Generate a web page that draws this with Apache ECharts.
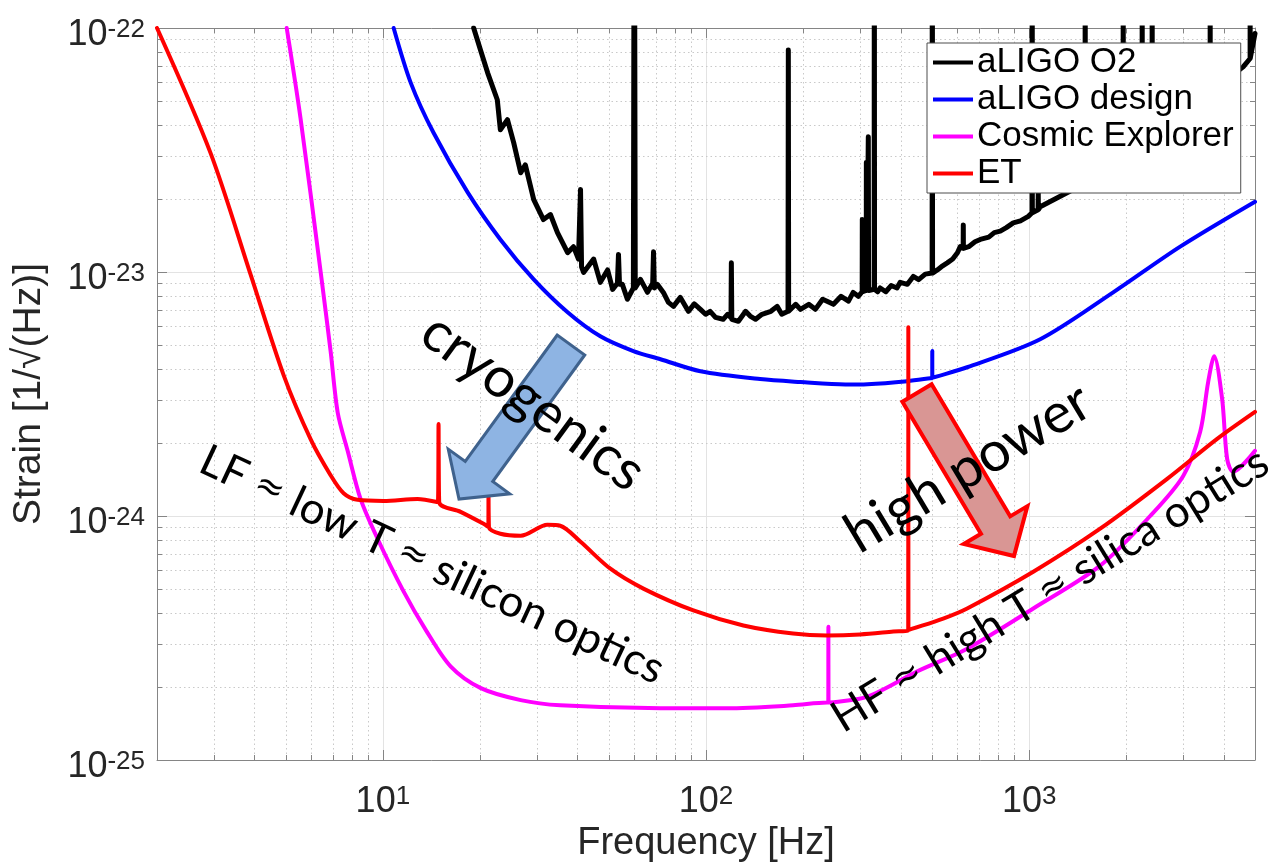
<!DOCTYPE html>
<html>
<head>
<meta charset="utf-8">
<title>Detector sensitivity curves</title>
<script src="https://cdn.jsdelivr.net/npm/echarts@6/dist/echarts.min.js"></script>
<style>
  html, body { margin: 0; padding: 0; background: #ffffff; }
  #chart { width: 1272px; height: 868px; }
</style>
</head>
<body>
<div id="chart"></div>
<script>
// Axis ranges
const freqRange = [2, 5000];          // Hz
const strainRange = [1e-25, 1e-22];   // 1/sqrt(Hz)
// Strain values are handed to the log axis in units of 1e-24 (keeps the scale well inside float precision)
const STRAIN_UNIT = 1e-24;

const seriesNames = ['aLIGO O2', 'aLIGO design', 'Cosmic Explorer', 'ET'];
const seriesColors = ['#000000', '#0000ff', '#ff00ff', '#ff0000'];

// [frequency (Hz), strain (1/sqrt(Hz))]
const aligoO2 = [
  [19.1, 1.0e-22], [20.05, 8.13e-23], [21.1, 6.55e-23], [22.6, 5.08e-23], [23.1, 3.83e-23],
  [24.3, 4.21e-23], [25.4, 3.39e-23], [26.7, 2.55e-23], [27.6, 2.75e-23], [29.3, 1.98e-23],
  [31.4, 1.64e-23], [33.0, 1.72e-23], [34.7, 1.45e-23], [37.3, 1.20e-23], [38.9, 1.27e-23],
  [40.3, 1.13e-23], [40.9, 2.18e-23], [41.2, 1.05e-23],
  [41.8, 9.96e-24], [44.9, 1.13e-23], [47.1, 9.07e-24], [49.6, 1.02e-23], [51.4, 8.49e-24],
  [53.2, 9.0e-24], [53.6, 1.18e-23], [54.0, 8.9e-24],
  [55.1, 8.9e-24], [57.1, 7.73e-24],
  [59.6, 8.6e-24], [60.0, 1e-21], [60.4, 8.6e-24],
  [62.7, 9.33e-24], [65.9, 8.25e-24],
  [68.4, 9.0e-24], [68.8, 1.21e-23], [69.2, 8.6e-24],
  [70.7, 8.9e-24], [73.8, 8.25e-24], [76.5, 7.51e-24], [79.3, 7.23e-24], [83.3, 7.87e-24],
  [88.2, 6.90e-24], [92.0, 7.4e-24], [96.1, 7.03e-24], [99.7, 6.71e-24], [103, 6.9e-24],
  [107, 6.52e-24], [113, 6.40e-24], [116.6, 6.71e-24],
  [119.5, 6.5e-24], [119.8, 1.09e-23], [120.2, 6.4e-24],
  [126, 6.28e-24], [132.6, 6.9e-24], [137, 6.6e-24], [142.4, 6.40e-24], [149, 6.71e-24],
  [158.8, 6.9e-24], [166, 7.23e-24], [171.6, 6.71e-24],
  [179.4, 6.9e-24], [179.8, 8.13e-23], [180.2, 6.9e-24],
  [189.5, 7.37e-24], [196, 7.03e-24], [208, 7.37e-24], [218, 7.03e-24], [229.6, 7.73e-24],
  [248, 7.37e-24], [261.8, 7.95e-24], [276, 7.6e-24], [285.4, 8.25e-24], [296, 7.95e-24],
  [304.3, 8.3e-24], [304.6, 1.64e-23], [305.5, 8.3e-24],
  [313.3, 8.4e-24], [313.5, 2.81e-23], [314.5, 8.4e-24],
  [317.6, 8.4e-24], [317.9, 3.58e-23], [318.5, 8.4e-24],
  [331.5, 8.5e-24], [331.8, 1e-21], [332.3, 8.5e-24],
  [340, 8.3e-24], [346, 8.6e-24], [360, 8.3e-24], [374, 8.8e-24], [390, 8.6e-24],
  [399, 9.07e-24], [420, 8.9e-24], [438, 9.59e-24], [455, 9.3e-24], [477, 9.8e-24],
  [501, 9.9e-24], [501.5, 1e-21], [502.5, 9.9e-24],
  [520, 1.02e-23], [540, 1.06e-23], [558, 1.09e-23], [580, 1.13e-23], [600, 1.2e-23], [612, 1.27e-23],
  [625, 1.25e-23], [625.5, 1.56e-23], [626, 1.25e-23],
  [650, 1.27e-23], [680, 1.33e-23], [706, 1.36e-23], [750, 1.39e-23], [780, 1.45e-23],
  [814, 1.47e-23], [850, 1.52e-23], [893, 1.59e-23], [940, 1.62e-23], [994, 1.69e-23],
  [1021, 1.75e-23], [1022, 1e-21], [1023, 1.75e-23],
  [1066, 1.8e-23], [1067, 2.12e-23], [1068, 1.8e-23],
  [1082, 1.85e-23], [1369, 2.18e-23],
  [1490, 2.37e-23], [1491, 1e-21], [1492, 2.37e-23],
  [1954, 3.08e-23], [1955, 1e-21], [1956, 3.08e-23],
  [2237, 3.48e-23], [2238, 1e-21], [2239, 3.48e-23],
  [2402, 3.72e-23], [2403, 1e-21], [2404, 3.72e-23],
  [3632, 5.42e-23], [3633, 1e-21], [3634, 5.42e-23],
  [4595, 6.93e-23],
  [4829, 7.5e-23], [4830, 1e-21], [4831, 7.5e-23],
  [5000, 9.5e-23]
];

const aligoDesign = [
  [10.8, 1.0e-22], [12.2, 5.96e-23], [14.35, 3.72e-23], [18.3, 2.12e-23], [23.1, 1.36e-23],
  [29.3, 9.33e-24], [37.3, 6.84e-24], [47.1, 5.45e-24], [59.6, 4.74e-24], [72.3, 4.39e-24],
  [96.1, 3.92e-24], [147, 3.64e-24], [196, 3.54e-24], [270, 3.46e-24], [316, 3.47e-24],
  [420, 3.57e-24], [495, 3.67e-24],
  [501.3, 3.68e-24], [501.5, 4.74e-24], [501.7, 3.69e-24],
  [643, 4.07e-24], [1082, 5.30e-24], [1820, 8.25e-24], [2934, 1.27e-23], [5000, 1.94e-23]
];

const cosmicExplorer = [
  [5.04, 1.0e-22], [5.56, 4.28e-23], [6.42, 1.0e-23], [6.89, 4.74e-24], [7.25, 2.65e-24],
  [7.78, 1.85e-24], [8.53, 1.175e-24], [9.63, 8.07e-25], [11.6, 4.90e-25], [13.6, 3.40e-25],
  [16.2, 2.42e-25], [20.1, 1.97e-25], [26.7, 1.76e-25], [35.4, 1.675e-25], [72.3, 1.63e-25],
  [116, 1.63e-25], [186, 1.675e-25], [237, 1.72e-25],
  [239.0, 1.72e-25], [239.2, 3.52e-25], [239.4, 1.72e-25],
  [316, 1.82e-25], [451, 2.31e-25], [643, 2.86e-25], [1030, 4.18e-25], [1659, 6.26e-25],
  [2369, 1.00e-24], [2998, 1.46e-24], [3382, 2.21e-24], [3581, 3.54e-24], [3738, 4.52e-24],
  [3957, 3.01e-24], [4101, 1.71e-24], [4279, 1.52e-24], [5000, 1.85e-24]
];

const einsteinTelescope = [
  [2.0, 1.0e-22], [2.93, 3.07e-23], [3.90, 9.73e-24], [4.93, 3.78e-24], [5.98, 2.06e-24],
  [6.89, 1.47e-24], [7.56, 1.24e-24], [8.35, 1.165e-24], [10.05, 1.153e-24], [12.8, 1.175e-24],
  [14.8, 1.14e-24], [14.87, 2.38e-24], [14.94, 1.14e-24],
  [17.4, 1.04e-24], [20.5, 9.29e-25],
  [21.2, 9.03e-25], [21.23, 1.29e-24], [21.3, 9.0e-25],
  [23.1, 8.46e-25], [26.7, 8.30e-25], [32.3, 9.20e-25], [35.4, 9.12e-25], [40.9, 7.84e-25],
  [50.6, 6.08e-25], [64.0, 5.04e-25], [91.4, 4.10e-25], [130.5, 3.56e-25], [186, 3.30e-25],
  [237, 3.24e-25], [300, 3.27e-25], [380, 3.36e-25],
  [422.5, 3.40e-25], [422.8, 5.93e-24], [423.1, 3.41e-25],
  [542, 3.80e-25], [643, 4.18e-25], [1030, 5.91e-25], [1659, 8.87e-25], [2674, 1.42e-24],
  [3818, 2.07e-24], [5000, 2.67e-24]
];

// Log-axis minor divisions (2..9 inside each decade)
const minorMultipliers = [2, 3, 4, 5, 6, 7, 8, 9];
function minorTicks(range) {
  const out = [];
  const lo = Math.floor(Math.log10(range[0]) + 1e-9);
  const hi = Math.ceil(Math.log10(range[1]) - 1e-9);
  for (let e = lo; e < hi; e++) {
    minorMultipliers.forEach(m => {
      const v = m * Math.pow(10, e);
      if (v > range[0] * 1.0001 && v < range[1] * 0.9999) out.push(v);
    });
  }
  return out;
}

// Annotation texts
const noteCryo = 'cryogenics';
const notePower = 'high power';
const noteLF = 'LF \u2248 low T \u2248 silicon optics';
const noteHF = 'HF \u2248 high T \u2248 silica optics';

const FONT = "'Liberation Sans', Arial, Helvetica, sans-serif";
const NOTE_FONT = "Lato, 'Open Sans', sans-serif";
const SYMBOL_FONT = "'DejaVu Sans', sans-serif";
const AXIS_COLOR = '#858585';
const TEXT_COLOR = '#262626';
const MAJOR_GRID = '#e3e3e3';
const MINOR_GRID = '#c9c9c9';

// Convert to axis units
const toAxis = pts => pts.map(p => [p[0], p[1] / STRAIN_UNIT]);
const yRange = [strainRange[0] / STRAIN_UNIT, strainRange[1] / STRAIN_UNIT];
const unitExp = Math.round(Math.log10(STRAIN_UNIT));
const freqMinorTicks = minorTicks(freqRange);
const strainMinorTicks = minorTicks(yRange);

const chart = echarts.init(document.getElementById('chart'), null, { renderer: 'canvas' });

const richPower = {
  b: { fontSize: 36, fontFamily: FONT, color: TEXT_COLOR, lineHeight: 36, padding: [11, 0, 0, 0], verticalAlign: 'bottom' },
  s: { fontSize: 26, fontFamily: FONT, color: TEXT_COLOR, lineHeight: 26, verticalAlign: 'top' }
};

function logAxisBase(range) {
  return {
    type: 'log', logBase: 10, min: range[0], max: range[1],
    axisLine: { show: true, lineStyle: { color: AXIS_COLOR, width: 1 } },
    axisTick: { show: true, inside: true, length: 10, lineStyle: { color: AXIS_COLOR, width: 1 } },
    minorTick: { show: false },
    minorSplitLine: { show: false }
  };
}

function lineSeries(i, data, smooth) {
  return {
    name: seriesNames[i], type: 'line', data: toAxis(data),
    xAxisIndex: 0, yAxisIndex: 0,
    showSymbol: false, symbol: 'none', clip: true, silent: true,
    smooth: smooth,
    lineStyle: { color: seriesColors[i], width: i === 0 ? 5 : 4, join: 'round', cap: 'round' },
    itemStyle: { color: seriesColors[i] },
    emphasis: { disabled: true },
    z: 3 + i
  };
}

// Dotted minor grid plus short inward ticks on both opposite edges
const minorGridX = {
  type: 'custom', silent: true, z: 1, animation: false,
  xAxisIndex: 0, yAxisIndex: 0,
  data: freqMinorTicks.map(v => [v, yRange[0]]),
  encode: { x: 0, y: 1 },
  renderItem: (params, api) => {
    const v = api.value(0);
    const b = api.coord([v, yRange[0]]);
    const t = api.coord([v, yRange[1]]);
    const x = Math.round(b[0]) + 0.5;
    return {
      type: 'group', children: [
        { type: 'line', shape: { x1: x, y1: t[1], x2: x, y2: b[1] }, style: { stroke: MINOR_GRID, lineWidth: 1, lineDash: [1.5, 3] } },
        { type: 'line', shape: { x1: x, y1: b[1], x2: x, y2: b[1] - 5 }, style: { stroke: AXIS_COLOR, lineWidth: 1 } },
        { type: 'line', shape: { x1: x, y1: t[1], x2: x, y2: t[1] + 5 }, style: { stroke: AXIS_COLOR, lineWidth: 1 } }
      ]
    };
  }
};
const minorGridY = {
  type: 'custom', silent: true, z: 1, animation: false,
  xAxisIndex: 0, yAxisIndex: 0,
  data: strainMinorTicks.map(v => [freqRange[0], v]),
  encode: { x: 0, y: 1 },
  renderItem: (params, api) => {
    const v = api.value(1);
    const l = api.coord([freqRange[0], v]);
    const r = api.coord([freqRange[1], v]);
    const y = Math.round(l[1]) + 0.5;
    return {
      type: 'group', children: [
        { type: 'line', shape: { x1: l[0], y1: y, x2: r[0], y2: y }, style: { stroke: MINOR_GRID, lineWidth: 1, lineDash: [1.5, 3] } },
        { type: 'line', shape: { x1: l[0], y1: y, x2: l[0] + 5, y2: y }, style: { stroke: AXIS_COLOR, lineWidth: 1 } },
        { type: 'line', shape: { x1: r[0], y1: y, x2: r[0] - 5, y2: y }, style: { stroke: AXIS_COLOR, lineWidth: 1 } }
      ]
    };
  }
};

// Block arrow outline from tail centre to tip
function blockArrow(tail, tip, shaftW, headW, headL) {
  const dx = tip[0] - tail[0], dy = tip[1] - tail[1];
  const len = Math.hypot(dx, dy);
  const ux = dx / len, uy = dy / len, nx = -uy, ny = ux;
  const bx = tip[0] - ux * headL, by = tip[1] - uy * headL;
  const s = shaftW / 2, h = headW / 2;
  return [
    [tail[0] + nx * s, tail[1] + ny * s],
    [bx + nx * s, by + ny * s],
    [bx + nx * h, by + ny * h],
    [tip[0], tip[1]],
    [bx - nx * h, by - ny * h],
    [bx - nx * s, by - ny * s],
    [tail[0] - nx * s, tail[1] - ny * s]
  ];
}

// Rotated annotation; deg > 0 turns the text clockwise (reading downhill).
// The "approximately equal" sign is set in a font with a fuller glyph.
function note(text, x, y, deg, size) {
  const parts = text.split('\u2248');
  const richText = parts.map(p => '{t|' + p + '}').join('{a|\u2248}');
  return {
    type: 'text', x: x, y: y, rotation: -deg * Math.PI / 180, z: 110, silent: true,
    style: {
      text: richText, align: 'center', verticalAlign: 'middle',
      rich: {
        t: { fontSize: size, fontFamily: NOTE_FONT, fill: '#000000' },
        a: { fontSize: Math.round(size * 0.8), fontFamily: SYMBOL_FONT, fill: '#000000' }
      }
    }
  };
}

const option = {
  animation: false,
  backgroundColor: '#ffffff',
  grid: { left: 157, top: 28, width: 1098, height: 734, containLabel: false },
  legend: {
    data: seriesNames,
    orient: 'vertical', left: 927, top: 43,
    icon: 'rect', itemWidth: 40, itemHeight: 4, itemGap: 0,
    padding: [1, 7, 1, 6],
    backgroundColor: '#ffffff', borderColor: '#4d4d4d', borderWidth: 1,
    textStyle: { fontSize: 35, fontFamily: FONT, color: '#000000', lineHeight: 37, padding: [0, 0, 0, -1] },
    selectedMode: false, z: 50
  },
  xAxis: [
    Object.assign(logAxisBase(freqRange), {
      position: 'bottom',
      name: 'Frequency [Hz]', nameLocation: 'middle', nameGap: 65,
      nameTextStyle: { fontSize: 38, fontFamily: FONT, color: TEXT_COLOR },
      axisLabel: {
        show: true, margin: 24, showMinLabel: false, showMaxLabel: false,
        formatter: v => '{b|10}{s|' + Math.round(Math.log10(v)) + '}', rich: richPower
      },
      splitLine: { show: true, lineStyle: { color: MAJOR_GRID, width: 1 } }
    }),
    Object.assign(logAxisBase(freqRange), {
      position: 'top', axisLabel: { show: false }, splitLine: { show: false }
    })
  ],
  yAxis: [
    Object.assign(logAxisBase(yRange), {
      position: 'left',
      name: 'Strain [1/\u221A(Hz)]', nameLocation: 'middle', nameGap: 108,
      nameTextStyle: { fontSize: 39, fontFamily: FONT, color: TEXT_COLOR },
      axisLabel: {
        show: true, margin: 12, padding: [14, 0, 0, 0],
        formatter: v => '{b|10}{s|' + (Math.round(Math.log10(v)) + unitExp) + '}', rich: richPower
      },
      splitLine: { show: true, lineStyle: { color: MAJOR_GRID, width: 1 } }
    }),
    Object.assign(logAxisBase(yRange), {
      position: 'right', axisLabel: { show: false }, splitLine: { show: false }
    })
  ],
  series: [
    minorGridX,
    minorGridY,
    lineSeries(0, aligoO2, false),
    lineSeries(1, aligoDesign, 0.3),
    lineSeries(2, cosmicExplorer, 0.3),
    lineSeries(3, einsteinTelescope, 0.3)
  ],
  graphic: [
    {
      type: 'polygon', z: 100, silent: true,
      shape: { points: blockArrow([571, 345], [459, 499], 34, 76, 34) },
      style: { fill: '#8eb4e3', stroke: '#3f628d', lineWidth: 3, lineJoin: 'miter' }
    },
    {
      type: 'polygon', z: 100, silent: true,
      shape: { points: blockArrow([917, 393], [1014, 556], 34, 74, 36) },
      style: { fill: '#d99694', stroke: '#ff0000', lineWidth: 4, lineJoin: 'miter' }
    },
    note(noteCryo, 533, 402, 36, 56),
    note(notePower, 968, 468, -31, 56),
    note(noteLF, 432, 565, 25, 44),
    note(noteHF, 1050, 590, -31.5, 44)
  ]
};

chart.setOption(option);
</script>
</body>
</html>
